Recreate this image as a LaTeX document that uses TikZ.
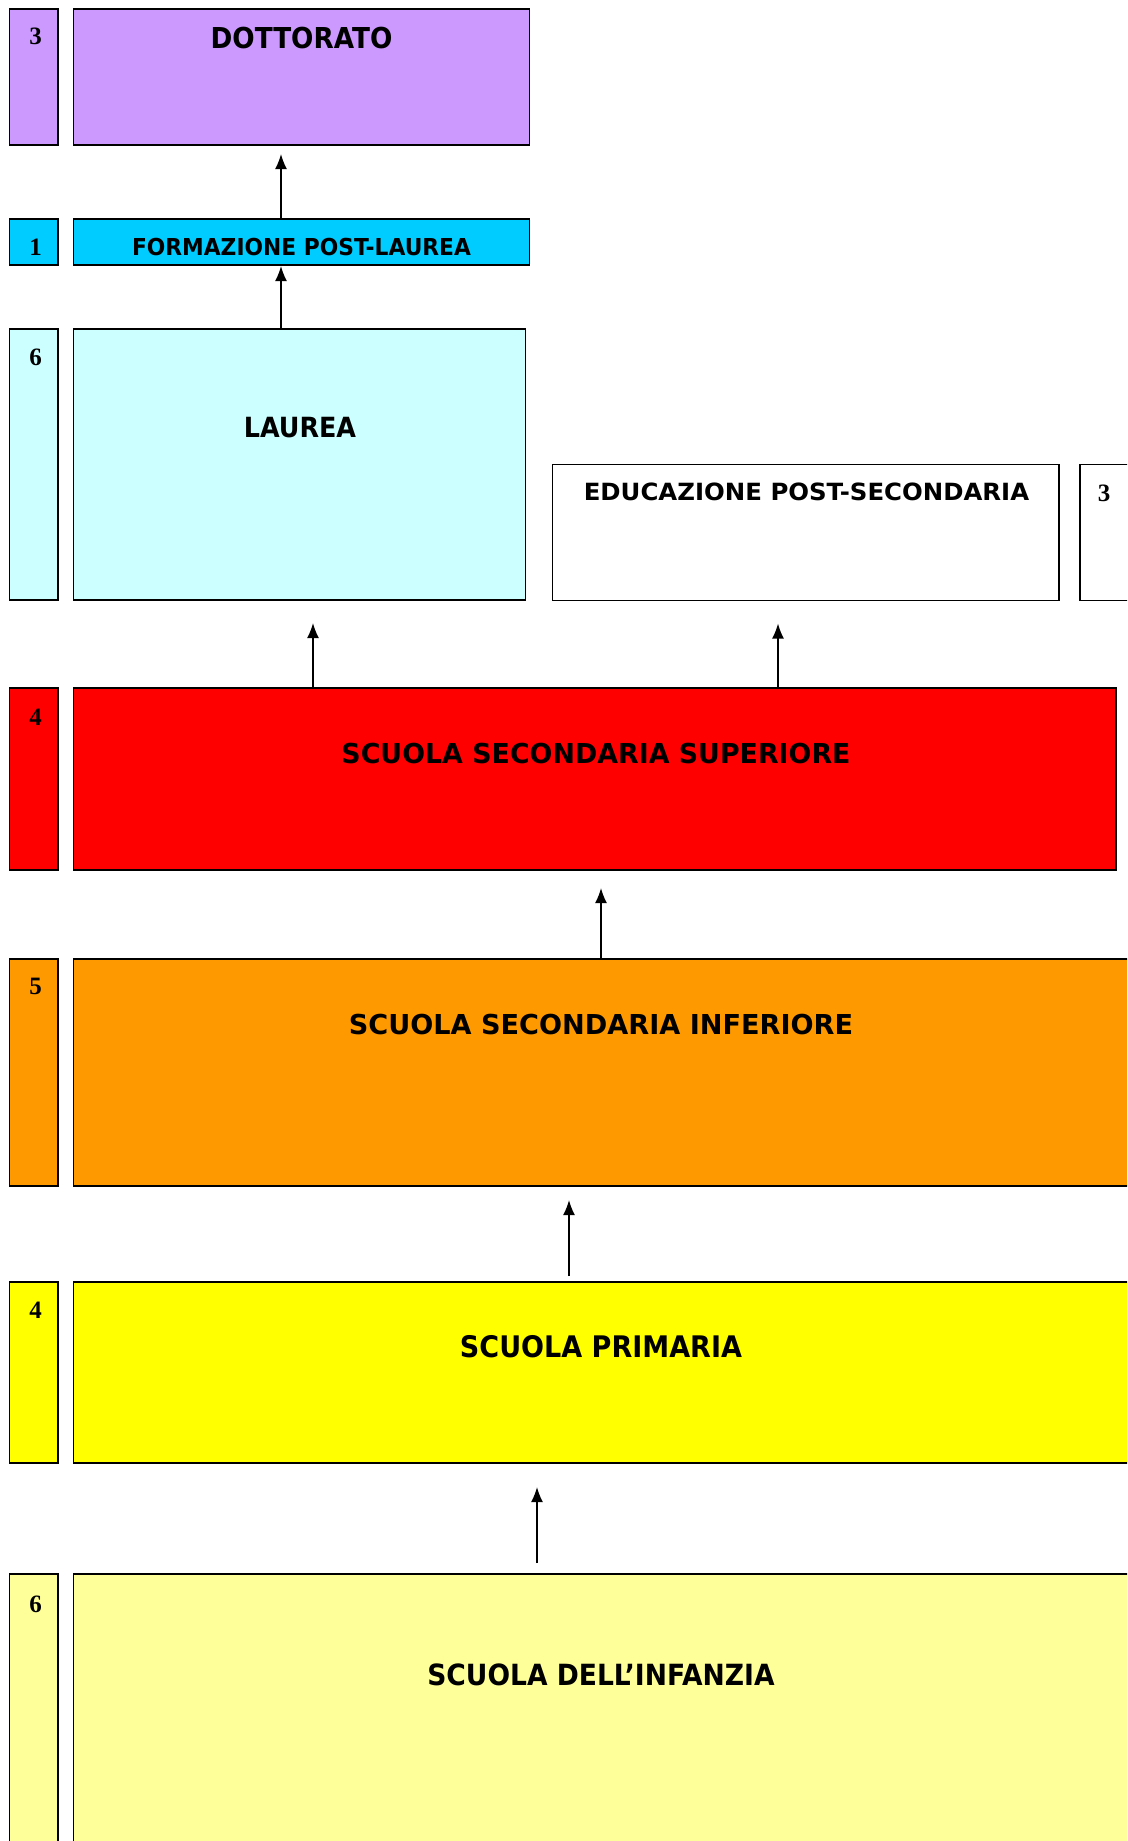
\documentclass[tikz,border=0pt]{standalone}
\usepackage{fontspec}
\setmainfont{DejaVu Sans}
\newfontfamily\numfont{Liberation Serif}
\usetikzlibrary{arrows.meta}
\definecolor{cPurple}{HTML}{CC99FF}
\definecolor{cCyan}{HTML}{00CCFF}
\definecolor{cLightCyan}{HTML}{CCFFFF}
\definecolor{cRed}{HTML}{FF0000}
\definecolor{cOrange}{HTML}{FF9900}
\definecolor{cYellow}{HTML}{FFFF00}
\definecolor{cLightYellow}{HTML}{FFFF99}
\newcommand\lbl[3]{\scalebox{#2}[1]{\fontsize{#1}{#1}\selectfont\bfseries #3}}
\begin{document}
\begin{tikzpicture}[x=1pt,y=-1pt,
  box/.style={draw=black,line width=1.8pt,inner sep=0pt,outer sep=0pt,anchor=north west},
  txt/.style={anchor=base,inner sep=0pt},
  num/.style={anchor=base,inner sep=0pt,font=\numfont\bfseries\fontsize{25}{25}\selectfont},
  arr/.style={-{Latex[length=15pt,width=12pt]},line width=1.6pt}]
\clip (0,0) rectangle (1127,1841);
% boxes
\node[box,fill=cPurple,minimum width=48.5pt,minimum height=136pt] (n3a) at (9.5,9) {};
\node[box,fill=cPurple,minimum width=456pt,minimum height=136pt] (dott) at (73.5,9) {};
\node[box,fill=cCyan,minimum width=48.5pt,minimum height=46pt] (n1) at (9.5,219) {};
\node[box,fill=cCyan,minimum width=456pt,minimum height=46pt] (ff) at (73.5,219) {};
\node[box,fill=cLightCyan,minimum width=48.5pt,minimum height=271pt] (n6a) at (9.5,329) {};
\node[box,fill=cLightCyan,minimum width=452pt,minimum height=271pt] (laurea) at (73.5,329) {};
\node[box,fill=white,minimum width=506.5pt,minimum height=136pt] (eps) at (552.5,464.5) {};
\node[box,fill=white,minimum width=80pt,minimum height=136pt] (n3b) at (1080,464.5) {};
\node[box,fill=cRed,minimum width=48.5pt,minimum height=182pt] (n4a) at (9.5,688) {};
\node[box,fill=cRed,minimum width=1042.5pt,minimum height=182pt] (sss) at (73.5,688) {};
\node[box,fill=cOrange,minimum width=48.5pt,minimum height=227pt] (n5) at (9.5,959) {};
\node[box,fill=cOrange,minimum width=1070pt,minimum height=227pt] (ssi) at (73.5,959) {};
\node[box,fill=cYellow,minimum width=48.5pt,minimum height=181pt] (n4b) at (9.5,1282) {};
\node[box,fill=cYellow,minimum width=1070pt,minimum height=181pt] (sp) at (73.5,1282) {};
\node[box,fill=cLightYellow,minimum width=48.5pt,minimum height=300pt] (n6b) at (9.5,1574) {};
\node[box,fill=cLightYellow,minimum width=1070pt,minimum height=300pt] (si) at (73.5,1574) {};
% labels
\node[txt] (tdott) at (301.5,49) {\lbl{28.8}{0.913}{DOTTORATO}};
\node[txt] (tff) at (301.5,255) {\lbl{23.3}{0.935}{FORMAZIONE POST-LAUREA}};
\node[txt] (tlaurea) at (300,437.7) {\lbl{27.8}{0.914}{LAUREA}};
\node[txt] (teps) at (806.5,500.7) {\lbl{23.7}{1.03}{EDUCAZIONE POST-SECONDARIA}};
\node[txt] (tsss) at (596,763.3) {\lbl{27.4}{0.98}{SCUOLA SECONDARIA SUPERIORE}};
\node[txt] (tssi) at (601,1034) {\lbl{27.4}{0.99}{SCUOLA SECONDARIA INFERIORE}};
\node[txt] (tsp) at (601,1357.3) {\lbl{29.7}{0.91}{SCUOLA PRIMARIA}};
\node[txt] (tsi) at (601,1685.3) {\lbl{29.2}{0.91}{SCUOLA DELL’INFANZIA}};
% numbers
\node[num] (d3a) at (35.5,45) {3};
\node[num] (d1) at (35.5,255) {1};
\node[num] (d6a) at (35.5,365.5) {6};
\node[num] (d3b) at (1104,501) {3};
\node[num] (d4a) at (35.5,725.5) {4};
\node[num] (d5) at (35.5,994.5) {5};
\node[num] (d4b) at (35.5,1318) {4};
\node[num] (d6b) at (35.5,1612) {6};
% arrow columns
\coordinate (xa) at (281,0);
\coordinate (xb) at (313,0);
\coordinate (xc) at (778,0);
\coordinate (xd) at (601,0);
\coordinate (xe) at (569,0);
\coordinate (xf) at (537,0);
% arrows
\draw[arr,shorten >=9pt] (xa |- ff.north) -- (xa |- dott.south);
\draw[arr,shorten >=1pt] (xa |- laurea.north) -- (xa |- ff.south);
\draw[arr,shorten >=23pt] (xb |- sss.north) -- (xb |- laurea.south);
\draw[arr,shorten >=23pt] (xc |- sss.north) -- (xc |- eps.south);
\draw[arr,shorten >=18pt] (xd |- ssi.north) -- (xd |- sss.south);
\draw[arr,shorten <=6pt,shorten >=14pt] (xe |- sp.north) -- (xe |- ssi.south);
\draw[arr,shorten <=11pt,shorten >=24pt] (xf |- si.north) -- (xf |- sp.south);
\end{tikzpicture}
\end{document}
